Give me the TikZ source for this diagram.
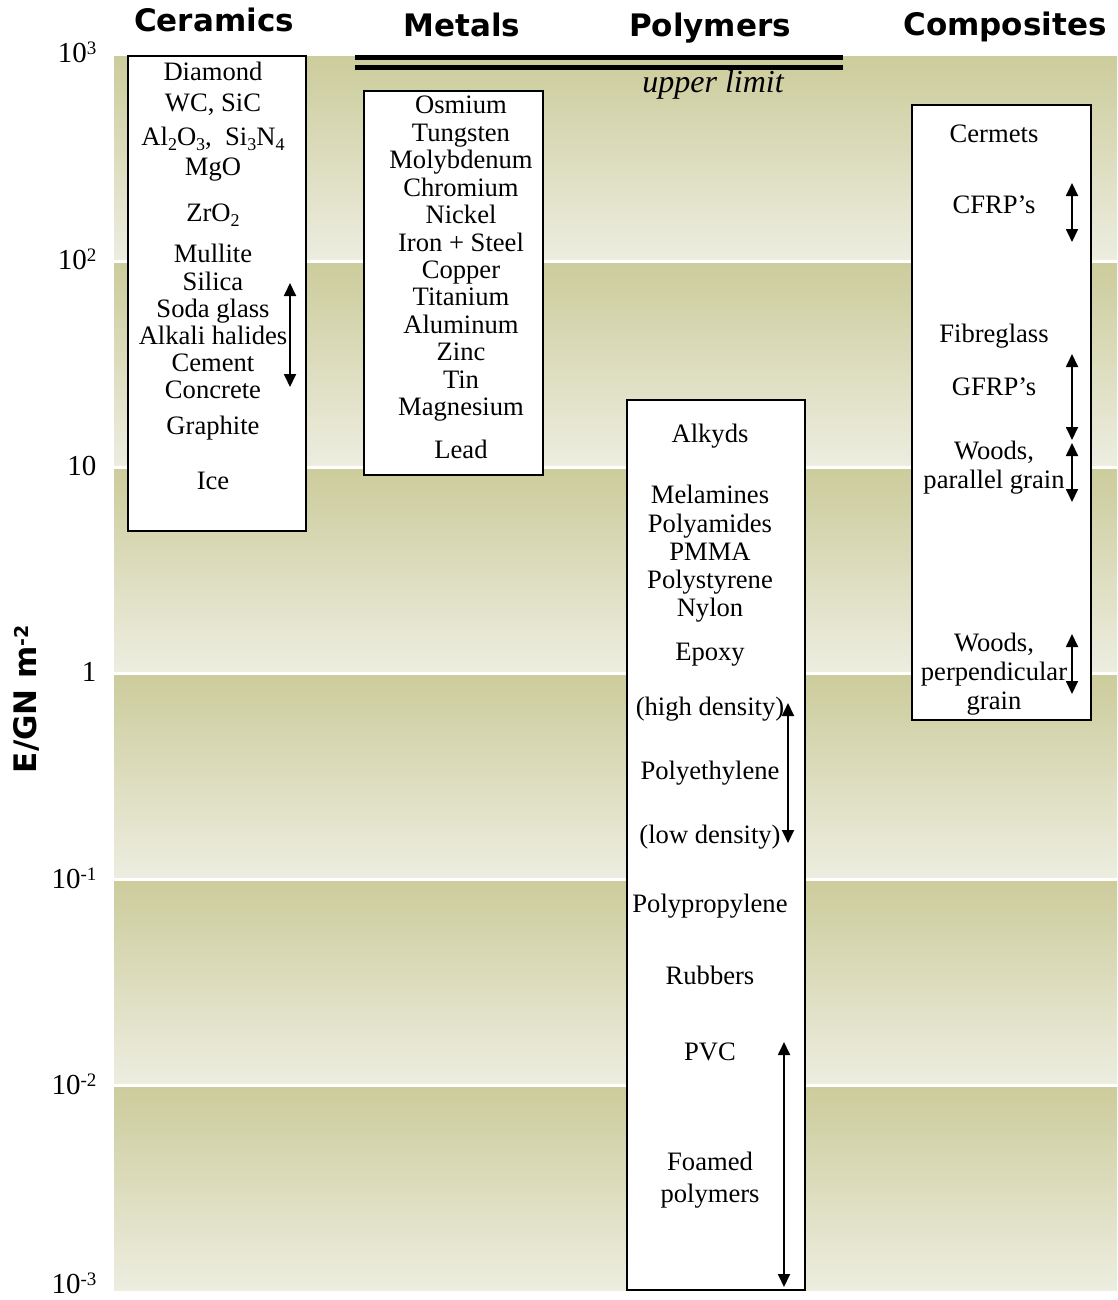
\documentclass[tikz,border=0pt]{standalone}
\usepackage{fontspec}
\setmainfont{Liberation Serif}
\newfontfamily\headfont{DejaVu Sans}
\usepackage{tikz}
\usetikzlibrary{arrows.meta}

\definecolor{bandtop}{RGB}{204,204,156}
\definecolor{bandbot}{RGB}{237,237,224}

\newcommand{\lowidx}[1]{\raisebox{-5pt}{\fontsize{18}{18}\selectfont #1}}
\newcommand{\hiexp}[1]{\raisebox{8pt}{\fontsize{19}{19}\selectfont #1}}

\begin{document}
\begin{tikzpicture}[x=1pt,y=-1pt,
    txt/.style={anchor=base,font=\fontsize{26.6}{28}\selectfont},
    head/.style={anchor=base,font=\headfont\bfseries\fontsize{31}{33}\selectfont},
    tick/.style={anchor=base east,font=\fontsize{29}{31}\selectfont},
    box/.style={draw=black,line width=1.8pt,fill=white},
    rng/.style={line width=1.8pt,{Triangle[length=13pt,width=12pt]}-{Triangle[length=13pt,width=12pt]}}]
  \useasboundingbox (0,0) rectangle (1117,1300);

  % decade bands
  \shade[top color=bandtop,bottom color=bandbot] (114,57) rectangle (1117,259);
  \shade[top color=bandtop,bottom color=bandbot] (114,263) rectangle (1117,465);
  \shade[top color=bandtop,bottom color=bandbot] (114,469) rectangle (1117,671);
  \shade[top color=bandtop,bottom color=bandbot] (114,675) rectangle (1117,877);
  \shade[top color=bandtop,bottom color=bandbot] (114,881) rectangle (1117,1083);
  \shade[top color=bandtop,bottom color=bandbot] (114,1087) rectangle (1117,1290);

  % axis
  \node[tick] (t3) at (100,63) {10\hiexp{3}};
  \node[tick] (t2) at (100,269) {10\hiexp{2}};
  \node[tick] (t1) at (100,475) {10};
  \node[tick] (t0) at (100,681) {1};
  \node[tick] (tm1) at (100,888) {10\hiexp{-1}};
  \node[tick] (tm2) at (100,1094) {10\hiexp{-2}};
  \node[tick] (tm3) at (100,1293) {10\hiexp{-3}};
  \node[rotate=90,font=\headfont\bfseries\fontsize{31}{33}\selectfont] (ylab) at (26,699) {E/GN m\hiexp{-2}};

  % headings
  \node[head] (hcer) at (214,32) {Ceramics};
  \node[head] (hmet) at (462,37) {Metals};
  \node[head] (hpol) at (710,37) {Polymers};
  \node[head] (hcom) at (1005,36) {Composites};

  % upper limit
  \coordinate (ula) at (355,57.5);
  \coordinate (ulb) at (843,57.5);
  \coordinate (ulc) at (355,68);
  \coordinate (uld) at (843,68);
  \draw[line width=5pt] (ula) -- (ulb);
  \draw[line width=5pt] (ulc) -- (uld);
  \node[anchor=base,font=\itshape\fontsize{32}{34}\selectfont] (ulim) at (713,93) {upper limit};

  % boxes
  \node[box,minimum width=178pt,minimum height=475pt] (cerbox) at (217,293.5) {};
  \node[box,minimum width=179pt,minimum height=384pt] (metbox) at (453.5,283) {};
  \node[box,minimum width=178pt,minimum height=890pt] (polbox) at (716,845) {};
  \node[box,minimum width=179pt,minimum height=615pt] (combox) at (1001.5,412.5) {};

  % ceramics
  \begin{scope}[every node/.style={txt}]
    \node (cdia) at (213,81) {Diamond};
    \node (cwc) at (213,112) {WC, SiC};
    \node (calo) at (213,146) {Al\lowidx{2}O\lowidx{3},\ \ Si\lowidx{3}N\lowidx{4}};
    \node (cmgo) at (213,176) {MgO};
    \node (czro) at (213,222) {ZrO\lowidx{2}};
    \node (cmul) at (213,262) {Mullite};
    \node (csil) at (213,290) {Silica};
    \node (csod) at (213,317) {Soda glass};
    \node (calk) at (213,344) {Alkali halides};
    \node (ccem) at (213,371) {Cement};
    \node (ccon) at (213,398) {Concrete};
    \node (cgra) at (213,434) {Graphite};
    \node (cice) at (213,489) {Ice};
  \end{scope}
  \coordinate (cra) at (290,283);
  \coordinate (crb) at (290,387);
  \draw[rng] (cra) -- (crb);

  % metals
  \begin{scope}[every node/.style={txt}]
    \node (mosm) at (461,114) {Osmium};
    \node (mtun) at (461,141.4) {Tungsten};
    \node (mmol) at (461,168.8) {Molybdenum};
    \node (mchr) at (461,196.2) {Chromium};
    \node (mnic) at (461,223.6) {Nickel};
    \node (miro) at (461,251) {Iron + Steel};
    \node (mcop) at (461,278.4) {Copper};
    \node (mtit) at (461,305.8) {Titanium};
    \node (malu) at (461,333.2) {Aluminum};
    \node (mzin) at (461,360.6) {Zinc};
    \node (mtin) at (461,388) {Tin};
    \node (mmag) at (461,415.4) {Magnesium};
    \node (mlea) at (461,458) {Lead};
  \end{scope}

  % polymers
  \begin{scope}[every node/.style={txt}]
    \node (palk) at (710,442) {Alkyds};
    \node (pmel) at (710,503) {Melamines};
    \node (pami) at (710,532) {Polyamides};
    \node (ppmm) at (710,560) {PMMA};
    \node (psty) at (710,588) {Polystyrene};
    \node (pnyl) at (710,616) {Nylon};
    \node (pepo) at (710,660) {Epoxy};
    \node (phig) at (710,715) {(high density)};
    \node (peth) at (710,779) {Polyethylene};
    \node (plow) at (710,843) {(low density)};
    \node (ppro) at (710,912) {Polypropylene};
    \node (prub) at (710,984) {Rubbers};
    \node (ppvc) at (710,1060) {PVC};
    \node (pfoa) at (710,1170) {Foamed};
    \node (pfob) at (710,1202) {polymers};
  \end{scope}
  \coordinate (pra) at (788,703);
  \coordinate (prb) at (788,843);
  \coordinate (prc) at (784,1042);
  \coordinate (prd) at (784,1287);
  \draw[rng] (pra) -- (prb);
  \draw[rng] (prc) -- (prd);

  % composites
  \begin{scope}[every node/.style={txt}]
    \node (ocer) at (994,143) {Cermets};
    \node (ocfr) at (994,213) {CFRP’s};
    \node (ofib) at (994,342) {Fibreglass};
    \node (ogfr) at (994,395) {GFRP’s};
    \node (owpa) at (994,459) {Woods,};
    \node (owpb) at (994,488) {parallel grain};
    \node (owqa) at (994,651) {Woods,};
    \node (owqb) at (994,680) {perpendicular};
    \node (owqc) at (994,709) {grain};
  \end{scope}
  \coordinate (ora) at (1072,183);
  \coordinate (orb) at (1072,242);
  \coordinate (orc) at (1072,354);
  \coordinate (ord) at (1072,440);
  \coordinate (ore) at (1072,443);
  \coordinate (orf) at (1072,502);
  \coordinate (org) at (1072,634);
  \coordinate (orh) at (1072,694);
  \draw[rng] (ora) -- (orb);
  \draw[rng] (orc) -- (ord);
  \draw[rng] (ore) -- (orf);
  \draw[rng] (org) -- (orh);
\end{tikzpicture}
\end{document}
